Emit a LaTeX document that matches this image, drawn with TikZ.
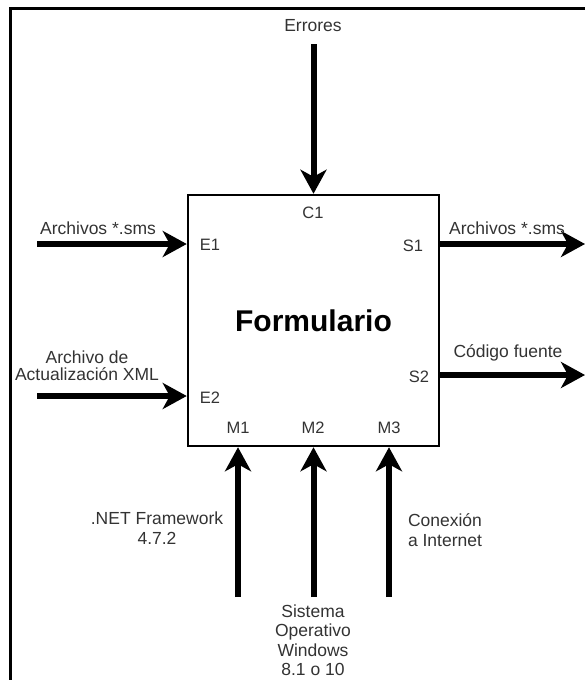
\documentclass[tikz,border=0pt]{standalone}
\usepackage{fontspec}
\setmainfont{Liberation Sans}
\usetikzlibrary{arrows.meta}
\definecolor{txt}{HTML}{333333}
\begin{document}
\begin{tikzpicture}[x=1pt,y=-1pt,
  flow/.style={line width=6pt, -{Stealth[length=24pt,width=26pt,inset=7pt]}},
  lbl/.style={text=txt, font=\fontsize{17.5}{20}\selectfont, inner sep=0pt, align=center},
  port/.style={text=txt, font=\fontsize{16.5}{20}\selectfont, inner sep=0pt},
]
\useasboundingbox (0,0) rectangle (585,680);
% outer frame (runs off the page on the right and bottom)
\draw[line width=3pt] (10,690) -- (10,8) -- (595,8);

% activity box
\node[draw, line width=2.5pt, minimum width=251pt, minimum height=251pt, inner sep=0pt,
      font=\bfseries\fontsize{30}{36}\selectfont] (F) at (313.5,320.5) {Formulario};

% port labels
\node[port] (c1) at (313,213) {C1};
\node[port] (e1) at (210,245) {E1};
\node[port] (e2) at (210,398) {E2};
\node[port] (s1) at (413,246) {S1};
\node[port] (s2) at (419,377) {S2};
\node[port] (m1) at (238,428) {M1};
\node[port] (m2) at (313,428) {M2};
\node[port] (m3) at (389,428) {M3};

% free ends of the arrows
\coordinate (errS) at (313.5,44);
\coordinate (in1S) at (37,244);
\coordinate (in2S) at (37,396);
\coordinate (out1E) at (585,244);
\coordinate (out2E) at (585,375);
\coordinate (m1S) at (238,597);
\coordinate (m2S) at (313.5,597);
\coordinate (m3S) at (389,597);

% control
\draw[flow] (errS) -- (F.north);
% inputs
\draw[flow] (in1S) -- (in1S -| F.west);
\draw[flow] (in2S) -- (in2S -| F.west);
% outputs
\draw[flow] (F.east |- out1E) -- (out1E);
\draw[flow] (F.east |- out2E) -- (out2E);
% mechanisms
\draw[flow] (m1S) -- (m1S |- F.south);
\draw[flow] (m2S) -- (m2S |- F.south);
\draw[flow] (m3S) -- (m3S |- F.south);

% arrow labels
\node[lbl] (errL) at (313,26) {Errores};
\node[lbl] (in1L) at (98,228) {Archivos *.sms};
\node[lbl, font=\fontsize{17.5}{17}\selectfont] (in2L) at (87,365.5) {Archivo de\\Actualización XML};
\node[lbl] (out1L) at (507,228) {Archivos *.sms};
\node[lbl] (out2L) at (508,353) {Código fuente};
\node[lbl] (m1L) at (157,528) {.NET Framework\\4.7.2};
\node[lbl, font=\fontsize{17.5}{19.5}\selectfont] (m2L) at (313,640) {Sistema\\Operativo\\Windows\\8.1 o 10};
\node[lbl] (m3L) at (445,530) {Conexión\\a Internet};
\end{tikzpicture}
\end{document}
